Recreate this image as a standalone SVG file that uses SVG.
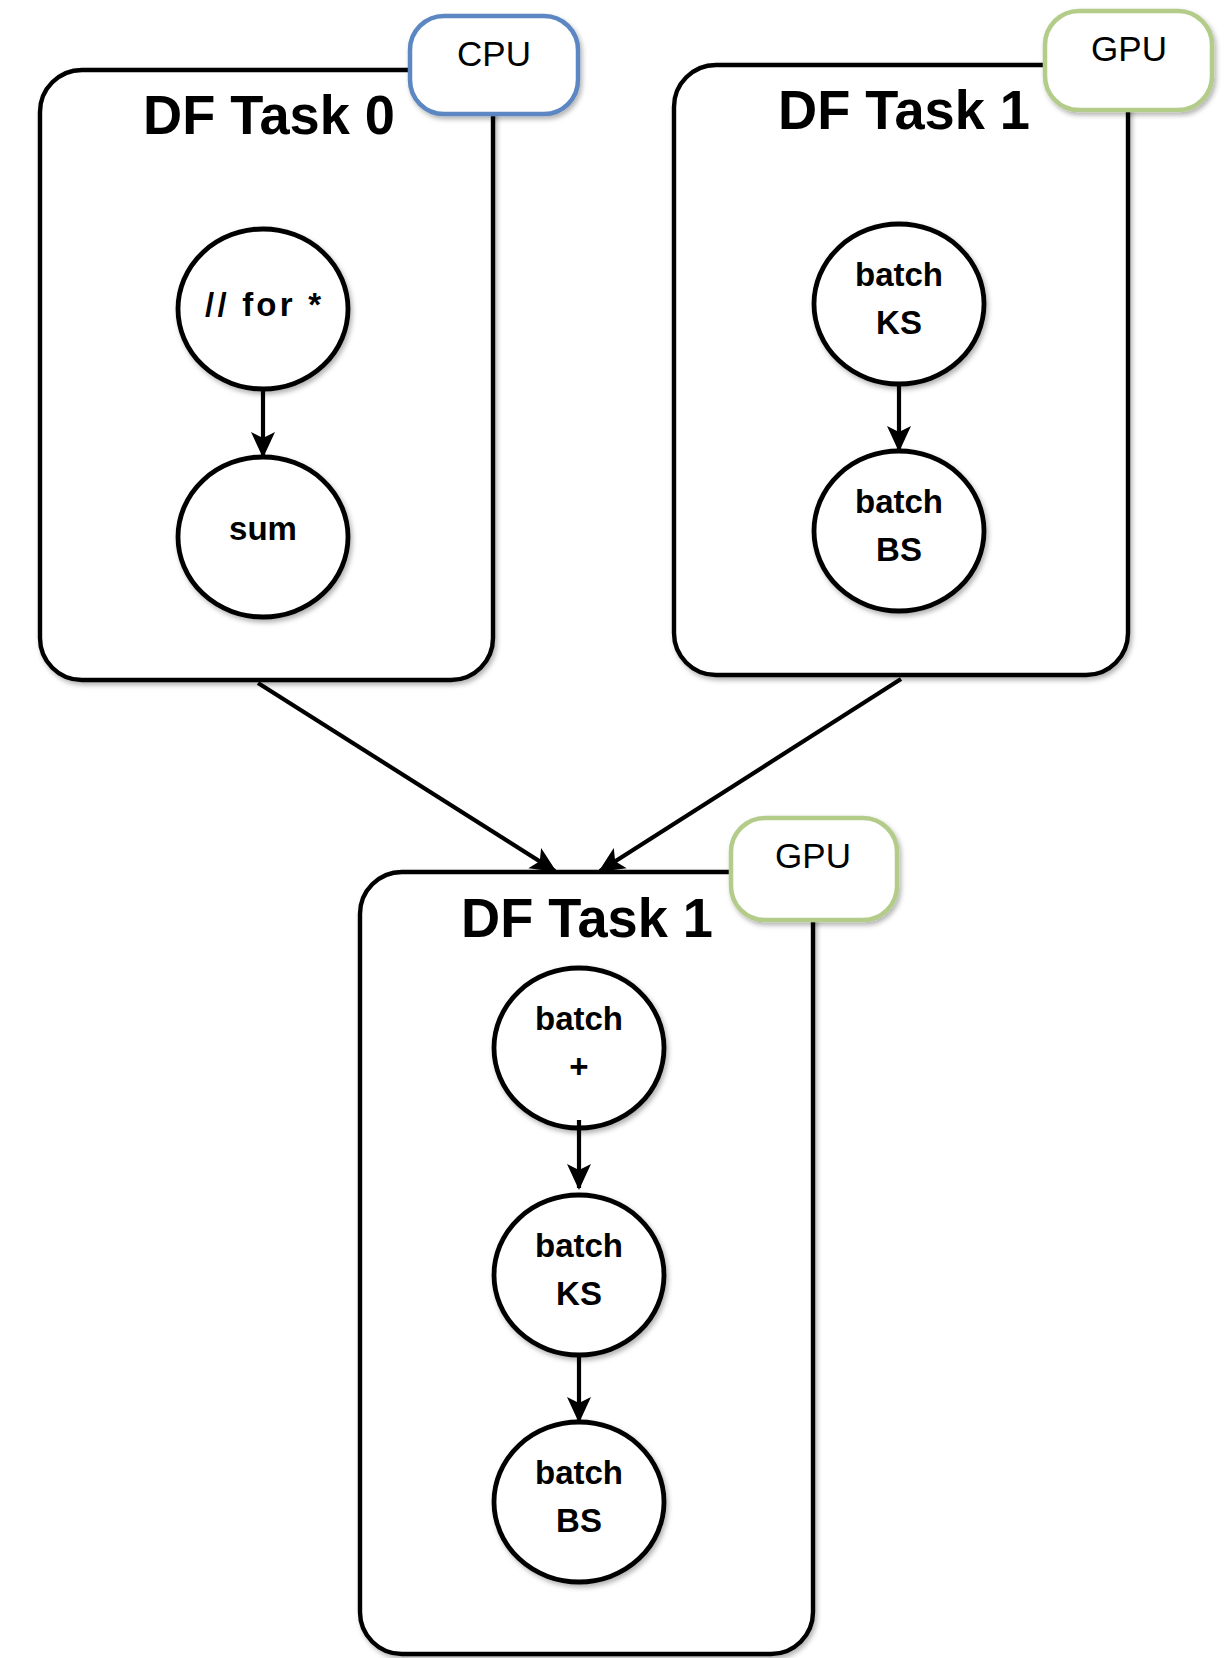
<svg xmlns="http://www.w3.org/2000/svg" width="1226" height="1658" viewBox="0 0 1226 1658">
  <defs>
    <filter id="shadow" x="-10%" y="-10%" width="130%" height="130%">
      <feDropShadow dx="2" dy="3" stdDeviation="2.5" flood-color="#000" flood-opacity="0.3"/>
    </filter>
    <marker id="arrow" viewBox="0 0 26 26" refX="24" refY="13" markerWidth="26" markerHeight="26" markerUnits="userSpaceOnUse" orient="auto">
      <path d="M0,1 L26,13 L0,25 L6,13 Z" fill="#000"/>
    </marker>
    <style>
      .task { fill: #fff; stroke: #000; stroke-width: 4.4; filter: url(#shadow); }
      .op { fill: #fff; stroke: #000; stroke-width: 4.8; filter: url(#shadow); }
      .cpu { fill: #fff; stroke: #5b87c2; stroke-width: 4.5; filter: url(#shadow); }
      .gpu { fill: #fff; stroke: #b3cc8a; stroke-width: 4.5; filter: url(#shadow); }
      .title { font-family: "Liberation Sans", Arial, sans-serif; font-weight: bold; font-size: 56px; text-anchor: middle; fill: #000; }
      .dev { font-family: "Liberation Sans", Arial, sans-serif; font-size: 35px; text-anchor: middle; fill: #000; }
      .lbl { font-family: "Liberation Sans", Arial, sans-serif; font-weight: bold; font-size: 33px; text-anchor: middle; fill: #000; }
      .edge { stroke: #000; stroke-width: 4.2; fill: none; marker-end: url(#arrow); }
    </style>
  </defs>
  <rect width="1226" height="1658" fill="#fff"/>

  <!-- Task 0 (CPU) -->
  <g id="task0">
    <rect class="task" x="40" y="70" width="453" height="610" rx="42"/>
    <rect class="cpu" x="410" y="16" width="168" height="98" rx="34"/>
    <text class="dev" x="494" y="66">CPU</text>
    <text class="title" x="269" y="134" textLength="252" lengthAdjust="spacingAndGlyphs">DF Task 0</text>
  </g>
  <g id="t0-for">
    <ellipse class="op" cx="263" cy="309" rx="85" ry="80"/>
    <text class="lbl" x="263" y="316" textLength="116" lengthAdjust="spacing">// for *</text>
  </g>
  <g id="t0-sum">
    <ellipse class="op" cx="263" cy="537" rx="85" ry="80"/>
    <text class="lbl" x="263" y="540">sum</text>
  </g>

  <!-- Task 1 (GPU) -->
  <g id="task1">
    <rect class="task" x="674" y="65" width="454" height="610" rx="42"/>
    <rect class="gpu" x="1045" y="11" width="167" height="99" rx="34"/>
    <text class="dev" x="1129" y="61">GPU</text>
    <text class="title" x="904" y="129" textLength="252" lengthAdjust="spacingAndGlyphs">DF Task 1</text>
  </g>
  <g id="t1-ks">
    <ellipse class="op" cx="899" cy="304" rx="85" ry="80"/>
    <text class="lbl" x="899" y="286">batch</text>
    <text class="lbl" x="899" y="334">KS</text>
  </g>
  <g id="t1-bs">
    <ellipse class="op" cx="899" cy="531" rx="85" ry="80"/>
    <text class="lbl" x="899" y="513">batch</text>
    <text class="lbl" x="899" y="561">BS</text>
  </g>

  <!-- Task 2 (GPU) -->
  <g id="task2">
    <rect class="task" x="360" y="872" width="453" height="782" rx="42"/>
    <rect class="gpu" x="731" y="818" width="166" height="102" rx="34"/>
    <text class="dev" x="813" y="868">GPU</text>
    <text class="title" x="587" y="937" textLength="252" lengthAdjust="spacingAndGlyphs">DF Task 1</text>
  </g>
  <g id="t2-add">
    <ellipse class="op" cx="579" cy="1048" rx="85" ry="80"/>
    <text class="lbl" x="579" y="1030">batch</text>
    <text class="lbl" x="579" y="1078">+</text>
  </g>
  <g id="t2-ks">
    <ellipse class="op" cx="579" cy="1275" rx="85" ry="80"/>
    <text class="lbl" x="579" y="1257">batch</text>
    <text class="lbl" x="579" y="1305">KS</text>
  </g>
  <g id="t2-bs">
    <ellipse class="op" cx="579" cy="1502" rx="85" ry="80"/>
    <text class="lbl" x="579" y="1484">batch</text>
    <text class="lbl" x="579" y="1532">BS</text>
  </g>

  <!-- Connectors -->
  <g id="edges">
    <line class="edge" x1="263" y1="389" x2="263" y2="456"/>
    <line class="edge" x1="899" y1="384" x2="899" y2="450"/>
    <line class="edge" x1="579" y1="1120" x2="579" y2="1188"/>
    <line class="edge" x1="579" y1="1355" x2="579" y2="1421"/>
    <line class="edge" x1="258" y1="683" x2="555" y2="871"/>
    <line class="edge" x1="901" y1="679" x2="600" y2="871"/>
  </g>
</svg>
